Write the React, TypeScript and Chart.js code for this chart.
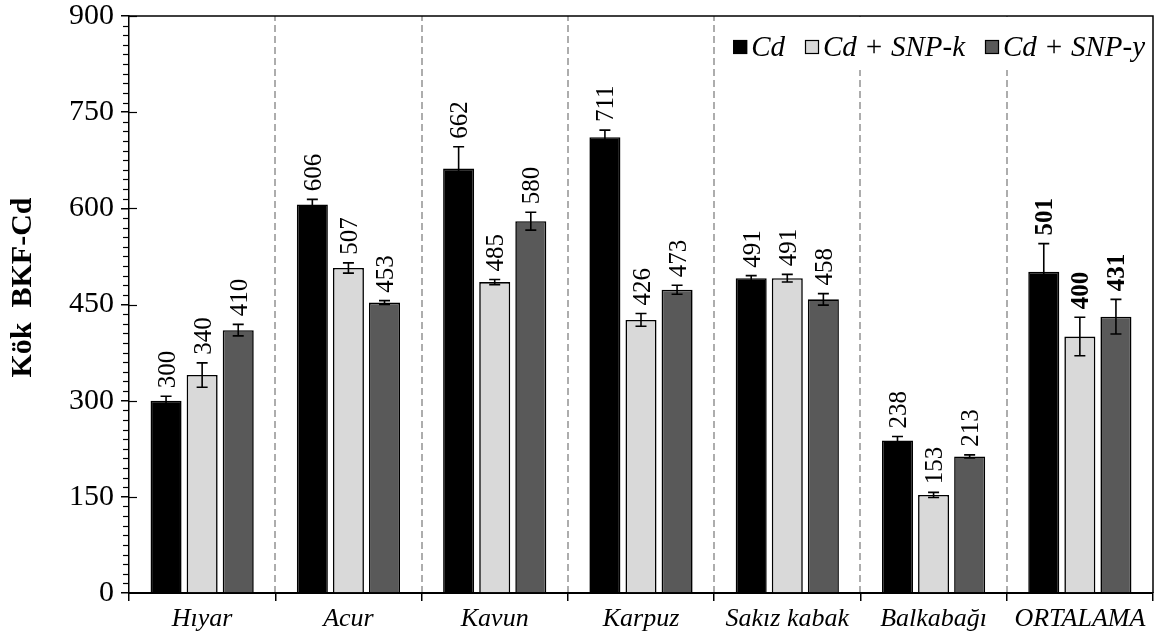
import React, { useEffect, useRef } from "react";
import { Chart, registerables } from "chart.js";

Chart.register(...registerables);

const categories = ["Hıyar", "Acur", "Kavun", "Karpuz", "Sakız kabak", "Balkabağı", "ORTALAMA"];
const seriesLabels = ["Cd", "Cd + SNP-k", "Cd + SNP-y"];
const cdValues = [300, 606, 662, 711, 491, 238, 501];
const snpKValues = [340, 507, 485, 426, 491, 153, 400];
const snpYValues = [410, 453, 580, 473, 458, 213, 431];
const cdErrors = [7, 8, 34, 11, 4, 6, 44];
const snpKErrors = [19, 8, 4, 10, 6, 4, 30];
const snpYErrors = [9, 3, 14, 7, 9, 2.5, 27];
const seriesColors = ["#000000", "#d9d9d9", "#595959"];
const yMin = 0;
const yMax = 900;
const yStep = 150;
const yMinorStep = 15;
const yTitle = "Kök  BKF-Cd";

const FONT = "'Liberation Serif', 'Times New Roman', serif";

const seriesValues = [cdValues, snpKValues, snpYValues];
const seriesErrors = [cdErrors, snpKErrors, snpYErrors];

const decorPlugin = {
  id: "decor",
  beforeDraw(chart: any) {
    const { ctx, chartArea: ca, scales } = chart;
    const x = scales.x;
    ctx.save();
    ctx.fillStyle = "#ffffff";
    ctx.fillRect(0, 0, chart.width, chart.height);
    ctx.strokeStyle = "#939393";
    ctx.lineWidth = 1.5;
    ctx.setLineDash([7, 4]);
    for (let i = 1; i < categories.length; i++) {
      const px = Math.round((x.getPixelForValue(i - 1) + x.getPixelForValue(i)) / 2);
      ctx.beginPath();
      ctx.moveTo(px, ca.bottom);
      ctx.lineTo(px, ca.top);
      ctx.stroke();
    }
    ctx.restore();
  },
  afterDatasetsDraw(chart: any) {
    const { ctx, scales } = chart;
    const y = scales.y;
    ctx.save();
    chart.data.datasets.forEach((ds: any, di: number) => {
      const meta = chart.getDatasetMeta(di);
      const errs = seriesErrors[di];
      meta.data.forEach((bar: any, i: number) => {
        const v = ds.data[i];
        const e = errs[i];
        const yt = y.getPixelForValue(v + e);
        const yb = y.getPixelForValue(v - e);
        const cx = bar.x;
        ctx.strokeStyle = "#000";
        ctx.lineWidth = 1.6;
        ctx.setLineDash([]);
        ctx.beginPath();
        ctx.moveTo(cx, yt);
        ctx.lineTo(cx, yb);
        ctx.moveTo(cx - 5.5, yt);
        ctx.lineTo(cx + 5.5, yt);
        ctx.moveTo(cx - 5.5, yb);
        ctx.lineTo(cx + 5.5, yb);
        ctx.stroke();
        const bold = i === categories.length - 1;
        const fs = 25;
        ctx.font = `${bold ? "bold " : ""}${fs}px ${FONT}`;
        ctx.fillStyle = "#000";
        ctx.textAlign = "left";
        ctx.textBaseline = "alphabetic";
        ctx.save();
        ctx.translate(cx, yt - 8);
        ctx.rotate(-Math.PI / 2);
        ctx.fillText(String(v), 0, fs * 0.34);
        ctx.restore();
      });
    });
    ctx.restore();
  },
  afterDraw(chart: any) {
    const { ctx, chartArea: ca, scales } = chart;
    const y = scales.y;
    ctx.save();
    ctx.strokeStyle = "#000";
    ctx.lineWidth = 1.5;
    ctx.setLineDash([]);
    ctx.beginPath();
    ctx.moveTo(ca.left, ca.top);
    ctx.lineTo(ca.right, ca.top);
    ctx.lineTo(ca.right, ca.bottom);
    ctx.stroke();
    ctx.lineWidth = 1.2;
    for (let v = yMin; v <= yMax; v += yMinorStep) {
      const py = Math.round(y.getPixelForValue(v)) + 0.5;
      ctx.beginPath();
      if (v % yStep === 0) {
        if (v !== yMin) {
          ctx.moveTo(ca.left, py);
          ctx.lineTo(ca.left + 8, py);
        }
      } else {
        ctx.moveTo(ca.left - 6, py);
        ctx.lineTo(ca.left, py);
      }
      ctx.stroke();
    }
    // y-axis title
    ctx.save();
    ctx.font = `bold 30px ${FONT}`;
    ctx.fillStyle = "#000";
    ctx.textAlign = "center";
    ctx.textBaseline = "middle";
    ctx.translate(23, (ca.top + ca.bottom) / 2 - 17);
    ctx.rotate(-Math.PI / 2);
    ctx.fillText(yTitle, 0, 0);
    ctx.restore();
    // legend
    const fs = 29;
    ctx.font = `italic ${fs}px ${FONT}`;
    const box = 14;
    const gapBT = 4;
    const gapItem = 20;
    const items = chart.data.datasets.map((d: any) => ({
      label: d.label,
      color: d.backgroundColor,
      w: ctx.measureText(d.label).width,
    }));
    const total =
      items.reduce((s: number, it: any) => s + box + gapBT + it.w, 0) + gapItem * (items.length - 1);
    const right = ca.right - 8;
    let lx = right - total;
    const cy = ca.top + 31;
    ctx.fillStyle = "#fff";
    ctx.fillRect(lx - 12, ca.top + 1, ca.right - (lx - 12) - 1, 53);
    items.forEach((it: any) => {
      ctx.fillStyle = it.color;
      ctx.fillRect(lx, cy - box / 2, box, box);
      ctx.strokeStyle = "#000";
      ctx.lineWidth = 1.2;
      ctx.strokeRect(lx + 0.5, cy - box / 2 + 0.5, box - 1, box - 1);
      ctx.fillStyle = "#000";
      ctx.textAlign = "left";
      ctx.textBaseline = "middle";
      ctx.fillText(it.label, lx + box + gapBT, cy + 1);
      lx += box + gapBT + it.w + gapItem;
    });
    ctx.restore();
  },
};

export default function App() {
  const canvasRef = useRef<HTMLCanvasElement | null>(null);

  useEffect(() => {
    if (!canvasRef.current) return;
    const chart = new Chart(canvasRef.current, {
      type: "bar",
      data: {
        labels: categories,
        datasets: seriesLabels.map((label, i) => ({
          label,
          data: seriesValues[i],
          backgroundColor: seriesColors[i],
          borderColor: "#000000",
          borderWidth: 1.6,
          categoryPercentage: 0.74,
          barPercentage: 0.86,
        })),
      },
      options: {
        animation: false,
        responsive: true,
        maintainAspectRatio: false,
        layout: { padding: { top: 16, right: 6, left: 0, bottom: 0 } },
        plugins: {
          legend: { display: false },
          tooltip: { enabled: false },
        },
        scales: {
          x: {
            type: "category",
            offset: true,
            grid: {
              display: true,
              offset: true,
              drawOnChartArea: false,
              drawTicks: true,
              tickLength: 8,
              color: "#000",
              lineWidth: 1.5,
            },
            border: { display: true, color: "#000", width: 2 },
            ticks: {
              color: "#000",
              font: { family: FONT, size: 26, style: "italic" },
              padding: 3,
              maxRotation: 0,
              autoSkip: false,
            },
            afterFit(scale: any) {
              scale.height = 43;
              scale.paddingLeft = 0;
              scale.paddingRight = 0;
            },
          },
          y: {
            type: "linear",
            min: yMin,
            max: yMax,
            grid: {
              display: true,
              drawOnChartArea: false,
              drawTicks: true,
              tickLength: 8,
              color: "#000",
              lineWidth: 1.5,
            },
            border: { display: true, color: "#000", width: 1.5 },
            ticks: {
              stepSize: yStep,
              color: "#000",
              font: { family: FONT, size: 30 },
              padding: 7,
            },
            afterFit(scale: any) {
              scale.width = 129;
              scale.paddingTop = 0;
              scale.paddingBottom = 0;
            },
          },
        },
      },
      plugins: [decorPlugin],
    } as any);
    return () => chart.destroy();
  }, []);

  return (
    <div style={{ position: "absolute", left: 0, top: 0, width: 1159, height: 636 }}>
      <canvas ref={canvasRef} />
    </div>
  );
}
